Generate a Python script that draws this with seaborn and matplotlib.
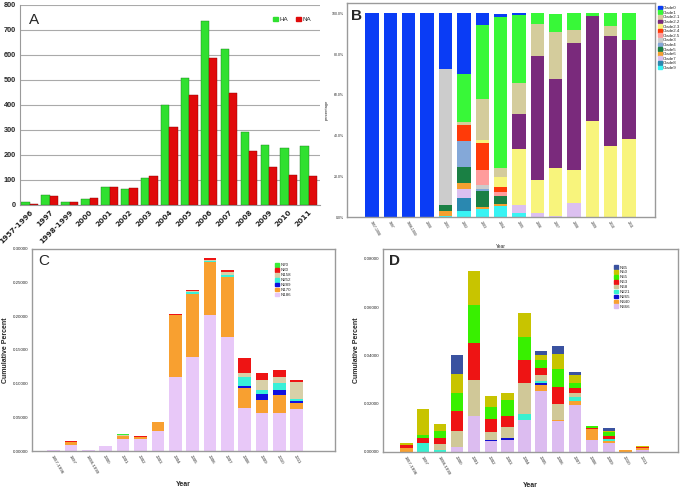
import numpy as np
import pandas as pd
import matplotlib
matplotlib.use("Agg")
import matplotlib.pyplot as plt
from matplotlib.patches import Patch
import seaborn as sns

# ---------------- data ----------------
years = ["1957-1996", "1997", "1998-1999", "2000", "2001", "2002", "2003", "2004",
         "2005", "2006", "2007", "2008", "2009", "2010", "2011"]

# Panel A
ha_counts = [12, 38, 10, 25, 70, 65, 108, 400, 507, 735, 625, 290, 238, 228, 235]
na_counts = [5, 35, 10, 27, 72, 68, 115, 312, 438, 587, 448, 215, 150, 118, 117]

# Panel B (percentages)
clade_names = ["Clade0", "Clade1", "Clade2.1", "Clade2.2", "Clade2.3", "Clade2.4", "Clade2.5",
               "Clade3", "Clade4", "Clade5", "Clade6", "Clade7", "Clade8", "Clade9"]
clade_colors = ["#0a3cf5", "#38f838", "#d4cc9c", "#7a2a7c", "#f8f47c", "#ff3a08", "#ff9c9c",
                "#cccccc", "#84a8d8", "#1a8044", "#f4a030", "#dcc0f0", "#2a88b0", "#38f4f4"]
clade0 = [100, 100, 100, 100, 27.1, 29.9, 5.8, 1.6, 0.8, 0, 0, 0, 0, 0, 0]
clade1 = [0, 0, 0, 0, 0, 23.6, 36.5, 74.0, 33.2, 5.3, 9.0, 8.2, 1.3, 6.3, 13.2]
clade2_1 = [0, 0, 0, 0, 0, 1.3, 19.9, 4.4, 15.3, 15.6, 23.0, 6.1, 0, 4.9, 0]
clade2_2 = [0, 0, 0, 0, 0, 0, 0, 0, 17.3, 60.9, 43.9, 62.5, 51.3, 54.1, 48.5]
clade2_3 = [0, 0, 0, 0, 0, 0, 1.5, 5.1, 27.5, 16.3, 23.2, 16.1, 47.4, 34.7, 38.3]
clade2_4 = [0, 0, 0, 0, 0, 7.7, 13.2, 2.3, 0, 0, 0, 0, 0, 0, 0]
clade2_5 = [0, 0, 0, 0, 0, 0, 7.4, 2.1, 0, 0, 0, 0, 0, 0, 0]
clade3 = [0, 0, 0, 0, 67.0, 0, 1.8, 0, 0, 0, 0, 0, 0, 0, 0]
clade4 = [0, 0, 0, 0, 0, 12.7, 1.2, 0, 0, 0, 0, 0, 0, 0, 0]
clade5 = [0, 0, 0, 0, 2.9, 7.9, 7.9, 3.8, 0, 0, 0, 0, 0, 0, 0]
clade6 = [0, 0, 0, 0, 2.2, 3.3, 1.1, 1.2, 0, 0, 0, 0, 0, 0, 0]
clade7 = [0, 0, 0, 0, 0, 4.4, 0, 0, 3.8, 1.9, 0.8, 7.1, 0, 0, 0]
clade8 = [0, 0, 0, 0, 0, 6.2, 0, 0, 0, 0, 0, 0, 0, 0, 0]
clade9 = [0, 0, 0, 0, 0.8, 3.0, 3.8, 5.4, 2.1, 0, 0, 0, 0, 0, 0]
clade_values = [clade0, clade1, clade2_1, clade2_2, clade2_3, clade2_4, clade2_5,
                clade3, clade4, clade5, clade6, clade7, clade8, clade9]

# Panel C
c_names = ["N70", "N80", "N158", "N252", "N289", "N170", "N186"]
c_colors = ["#38ee38", "#ee1414", "#d8d0a8", "#38f0d8", "#1010e0", "#f8a030", "#e8c8f8"]
c_n70 = [0, 0, 0, 0, 0.0010, 0, 0, 0, 0.0010, 0, 0, 0, 0, 0, 0]
c_n80 = [0.0004, 0.0010, 0.0004, 0, 0, 0.0005, 0, 0.0010, 0.0015, 0.0025, 0.0035, 0.0218, 0.0104, 0.0094, 0.0025]
c_n158 = [0, 0, 0, 0.0005, 0.0010, 0, 0, 0.0005, 0.0015, 0.0015, 0.0035, 0.0064, 0.0144, 0.0099, 0.0263]
c_n252 = [0, 0, 0, 0.0005, 0, 0, 0, 0, 0.0025, 0.0025, 0.0040, 0.0134, 0.0064, 0.0099, 0.0025]
c_n289 = [0, 0, 0, 0, 0, 0, 0, 0, 0, 0, 0, 0.0025, 0.0089, 0.0079, 0.0025]
c_n170 = [0.0006, 0.0050, 0.0006, 0, 0.0050, 0.0040, 0.0129, 0.0912, 0.0927, 0.0783, 0.0883, 0.0288, 0.0183, 0.0258, 0.0099]
c_n186 = [0.0012, 0.0089, 0.0012, 0.0070, 0.0180, 0.0173, 0.0298, 0.1105, 0.1403, 0.2018, 0.1696, 0.0645, 0.0570, 0.0570, 0.0620]
c_values = [c_n70, c_n80, c_n158, c_n252, c_n289, c_n170, c_n186]

# Panel D
d_names = ["N35", "N50", "N55", "N63", "N68", "N221", "N265", "N340", "N366"]
d_colors = ["#3a52a0", "#c8c400", "#38f000", "#ee1414", "#d0c898", "#38f0d0", "#1010d0", "#f8a030", "#dcbcf0"]
d_n35 = [0, 0, 0, 0.0079, 0, 0, 0, 0, 0.0018, 0.0030, 0.0011, 0, 0.0010, 0, 0]
d_n50 = [0.0010, 0.0108, 0.0029, 0.0077, 0.0141, 0.0048, 0.0028, 0.0097, 0.0023, 0.0065, 0.0033, 0, 0.0007, 0, 0.0004]
d_n55 = [0, 0.0010, 0.0026, 0.0076, 0.0156, 0.0051, 0.0065, 0.0094, 0.0032, 0.0073, 0.0021, 0.0007, 0.0014, 0, 0]
d_n63 = [0.0010, 0.0022, 0.0025, 0.0079, 0.0155, 0.0052, 0.0048, 0.0097, 0.0028, 0.0069, 0.0021, 0.0003, 0.0014, 0, 0.0005]
d_n68 = [0, 0, 0.0025, 0.0069, 0.0149, 0.0032, 0.0044, 0.0130, 0.0026, 0.0066, 0.0018, 0, 0, 0, 0]
d_n221 = [0, 0.0037, 0.0010, 0, 0, 0, 0, 0.0025, 0.0008, 0, 0.0014, 0, 0.0010, 0, 0]
d_n265 = [0, 0, 0, 0, 0, 0.0007, 0.0008, 0, 0.0007, 0, 0, 0, 0, 0, 0]
d_n340 = [0.0018, 0, 0, 0, 0, 0, 0, 0, 0.0026, 0.0006, 0.0019, 0.0046, 0.0005, 0.0010, 0.0006]
d_n366 = [0, 0, 0, 0.0020, 0.0148, 0.0044, 0.0051, 0.0131, 0.0252, 0.0128, 0.0194, 0.0051, 0.0039, 0, 0.0010]
d_values = [d_n35, d_n50, d_n55, d_n63, d_n68, d_n221, d_n265, d_n340, d_n366]

# ---------------- style ----------------
sns.set_theme(style="white")
plt.rcParams['font.family'] = ['Liberation Sans', 'DejaVu Sans']
GRAY = "#9a9a9a"

fig = plt.figure(figsize=(6.86, 4.88), dpi=100)


def stacked(ax, names, values, colors, width):
    """values listed in legend order; bottom of stack is the last entry."""
    arr = np.array(values[::-1], dtype=float)      # bottom -> top
    cum = np.cumsum(arr, axis=0)
    cols = colors[::-1]
    for i in range(len(arr) - 1, -1, -1):
        sns.barplot(x=years, y=cum[i], order=years, color=cols[i], width=width,
                    saturation=1, errorbar=None, linewidth=0, ax=ax)


def frame(ax):
    for s in ax.spines.values():
        s.set_visible(True)
        s.set_color(GRAY)
        s.set_linewidth(1.0)


# ---------------- Panel A ----------------
axA = fig.add_axes([0.029, 0.58, 0.437, 0.41])
dfA = pd.DataFrame({"Year": years * 2,
                    "Count": ha_counts + na_counts,
                    "Gene": ["HA"] * len(years) + ["NA"] * len(years)})
sns.barplot(data=dfA, x="Year", y="Count", hue="Gene", order=years,
            palette={"HA": "#30e030", "NA": "#e00a0a"}, width=0.84, saturation=1,
            errorbar=None, edgecolor="#1a7a1a", linewidth=0.3, ax=axA)
for bar in axA.patches:
    if abs(bar.get_facecolor()[0] - 0.878) < 0.02:
        bar.set_edgecolor("#8a0000")
axA.set_ylim(0, 800)
axA.set_xlim(-0.5, 14.55)
axA.set_yticks(range(0, 801, 100))
axA.yaxis.grid(True, color="#aaaaaa", linewidth=0.8)
axA.set_axisbelow(True)
for s in ["top", "right"]:
    axA.spines[s].set_visible(False)
for s in ["left", "bottom"]:
    axA.spines[s].set_color(GRAY)
    axA.spines[s].set_linewidth(0.8)
axA.tick_params(axis="both", length=2, width=0.6, color=GRAY, pad=1)
axA.set_xticks(range(len(years)))
axA.set_xticklabels(years, rotation=45, ha="right", rotation_mode="anchor",
                    fontsize=5.3, fontweight="bold", family=['Liberation Sans Narrow', 'DejaVu Sans'])
for lab in axA.get_yticklabels():
    lab.set_fontsize(5.3)
    lab.set_fontweight("bold")
axA.set_xlabel("")
axA.set_ylabel("")
axA.legend(handles=[Patch(color="#30e030", label="HA"), Patch(color="#e00a0a", label="NA")],
           loc="upper right", bbox_to_anchor=(0.99, 0.97), ncol=2, frameon=False, fontsize=4.5,
           handlelength=0.8, handleheight=0.8, columnspacing=1.2, handletextpad=0.3)
axA.text(0.03, 0.96, "A", transform=axA.transAxes, fontsize=11, va="top", ha="left")

# ---------------- Panel B ----------------
axB = fig.add_axes([0.506, 0.555, 0.449, 0.4385])
stacked(axB, clade_names, clade_values, clade_colors, 0.73)
axB.set_ylim(0, 105)
axB.set_xlim(-1.36, 15.42)
frame(axB)
axB.set_yticks([0, 20, 40, 60, 80, 100])
axB.set_yticklabels(["0.0%", "20.0%", "40.0%", "60.0%", "80.0%", "100.0%"], fontsize=2.5)
axB.set_xticks(range(len(years)))
axB.set_xticklabels(years, rotation=-60, ha="left", rotation_mode="anchor", fontsize=2.5)
axB.tick_params(axis="both", length=1.5, width=0.4, color=GRAY, pad=1)
axB.set_xlabel("Year", fontsize=3.5, labelpad=5)
axB.set_ylabel("percentage", fontsize=3, labelpad=2)
axB.legend(handles=[Patch(color=c, label=n) for n, c in zip(clade_names, clade_colors)],
           loc="upper left", bbox_to_anchor=(1.0, 1.0), frameon=False, fontsize=3.2,
           handlelength=0.9, handleheight=0.9, labelspacing=0.05, handletextpad=0.3,
           borderaxespad=0.4, borderpad=0.2)
axB.text(0.012, 0.975, "B", transform=axB.transAxes, fontsize=11, fontweight="bold",
         va="top", ha="left")

# ---------------- Panel C ----------------
axC = fig.add_axes([0.0466, 0.0758, 0.4417, 0.414])
stacked(axC, c_names, c_values, c_colors, 0.73)
axC.set_ylim(0, 0.30)
axC.set_xlim(-1.25, 16.2)
frame(axC)
axC.set_yticks(np.arange(0, 0.301, 0.05))
axC.set_yticklabels([f"{v:.5f}" for v in np.arange(0, 0.301, 0.05)], fontsize=3.2)
axC.set_xticks(range(len(years)))
axC.set_xticklabels(years, rotation=-60, ha="left", rotation_mode="anchor", fontsize=3.2)
axC.tick_params(axis="both", length=1.5, width=0.4, color=GRAY, pad=1)
axC.set_xlabel("Year", fontsize=5, fontweight="bold", labelpad=4)
axC.set_ylabel("Cumulative Percent", fontsize=5, fontweight="bold", labelpad=3)
axC.legend(handles=[Patch(color=c, label=n) for n, c in zip(c_names, c_colors)],
           loc="upper left", bbox_to_anchor=(0.79, 0.95), frameon=False, fontsize=3.2,
           handlelength=0.9, handleheight=0.9, labelspacing=0.12, handletextpad=0.3)
axC.text(0.02, 0.975, "C", transform=axC.transAxes, fontsize=11, va="top", ha="left")

# ---------------- Panel D ----------------
axD = fig.add_axes([0.558, 0.0738, 0.43, 0.416])
stacked(axD, d_names, d_values, d_colors, 0.73)
axD.set_ylim(0, 0.0841)
axD.set_xlim(-1.4, 16.1)
frame(axD)
axD.set_yticks(np.arange(0, 0.081, 0.02))
axD.set_yticklabels([f"{v:.5f}" for v in np.arange(0, 0.081, 0.02)], fontsize=3.2)
axD.set_xticks(range(len(years)))
axD.set_xticklabels(years, rotation=-60, ha="left", rotation_mode="anchor", fontsize=3.2)
axD.tick_params(axis="both", length=1.5, width=0.4, color=GRAY, pad=1)
axD.set_xlabel("Year", fontsize=5, fontweight="bold", labelpad=4)
axD.set_ylabel("Cumulative Percent", fontsize=5, fontweight="bold", labelpad=3)
axD.legend(handles=[Patch(color=c, label=n) for n, c in zip(d_names, d_colors)],
           loc="upper left", bbox_to_anchor=(0.77, 0.94), frameon=False, fontsize=3.2,
           handlelength=0.9, handleheight=0.9, labelspacing=0.12, handletextpad=0.3)
axD.text(0.02, 0.975, "D", transform=axD.transAxes, fontsize=11, fontweight="bold",
         va="top", ha="left")

fig.savefig("out.png", dpi=100)
